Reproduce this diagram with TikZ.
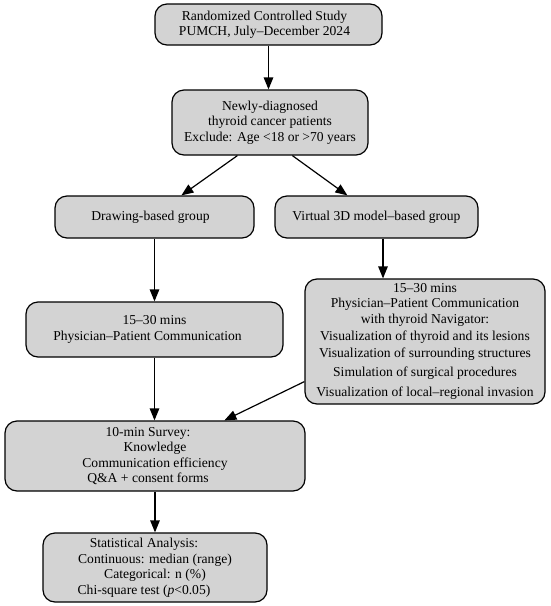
\documentclass[tikz,border=0pt]{standalone}
\usepackage{fontspec}
\setmainfont{Liberation Serif}
\usetikzlibrary{arrows.meta,calc}
\definecolor{boxgray}{HTML}{D3D3D3}
\newcommand{\shiftleft}[2]{#2\hspace*{#1}}
\begin{document}
\begin{tikzpicture}[x=1pt,y=-1pt,
  box/.style={draw=black, line width=1.2pt, fill=boxgray, rounded corners=12pt,
    align=center, inner sep=0pt, font=\fontsize{13.6}{15.5}\selectfont},
  arr/.style={-{Triangle[length=12pt,width=9.5pt]}, line width=1.2pt}]
\useasboundingbox (0,0) rectangle (550,606);

\node[box, minimum width=227pt, minimum height=41pt] (top) at (268.5,24.5)
  {\shiftleft{8pt}{Randomized Controlled Study}\\\shiftleft{8pt}{PUMCH, July--December 2024}};
\node[box, minimum width=196pt, minimum height=65pt] (new) at (270,122.5)
  {Newly-diagnosed\\thyroid cancer patients\\Exclude: Age <18 or >70 years};
\node[box, minimum width=199pt, minimum height=42pt] (draw) at (154.5,217)
  {\shiftleft{8pt}{Drawing-based group}};
\node[box, minimum width=203pt, minimum height=42pt] (virt) at (376.5,217)
  {Virtual 3D model--based group};
\node[box, minimum width=257pt, minimum height=55pt] (lcomm) at (154.5,329.5)
  {15--30 mins\\\shiftleft{14pt}{Physician--Patient Communication}};
\node[box, minimum width=240pt, minimum height=125pt] (rcomm) at (425,341.5)
  {15--30 mins\\
   \shiftleft{14pt}{Physician--Patient Communication}\\
   with thyroid Navigator:\\[2pt]
   Visualization of thyroid and its lesions\\[1.5pt]
   Visualization of surrounding structures\\[3pt]
   \shiftleft{12pt}{Simulation of surgical procedures}\\[5pt]
   Visualization of local--regional invasion};
\node[box, minimum width=300pt, minimum height=70pt] (survey) at (155,456)
  {\shiftleft{14pt}{10-min Survey:}\\\shiftleft{14pt}{Knowledge}\\
   \shiftleft{14pt}{Communication efficiency}\\\shiftleft{14pt}{Q\&A + consent forms}};
\node[box, minimum width=224pt, minimum height=69pt] (stat) at (155,567.5)
  {\shiftleft{22pt}{Statistical Analysis:}\\\shiftleft{22pt}{Continuous: median (range)}\\
   \shiftleft{22pt}{Categorical: n (\%)}\\\shiftleft{22pt}{Chi-square test (\textit{p}<0.05)}};

\coordinate (v1) at ([xshift=6.5pt]virt.south);
\draw[arr] (top.south) -- (top.south |- new.north);
\draw[arr] ([xshift=66pt]new.south west) -- ([xshift=127pt]draw.north west);
\draw[arr] ([xshift=121pt]new.south west) -- ([xshift=73pt]virt.north west);
\draw[arr] (draw.south) -- (draw.south |- lcomm.north);
\draw[arr] (v1) -- (v1 |- rcomm.north);
\draw[arr] (lcomm.south) -- (lcomm.south |- survey.north);
\draw[arr] ([yshift=23pt]rcomm.south west) -- ([xshift=220pt]survey.north west);
\draw[arr] (survey.south) -- (stat.north);
\end{tikzpicture}
\end{document}
